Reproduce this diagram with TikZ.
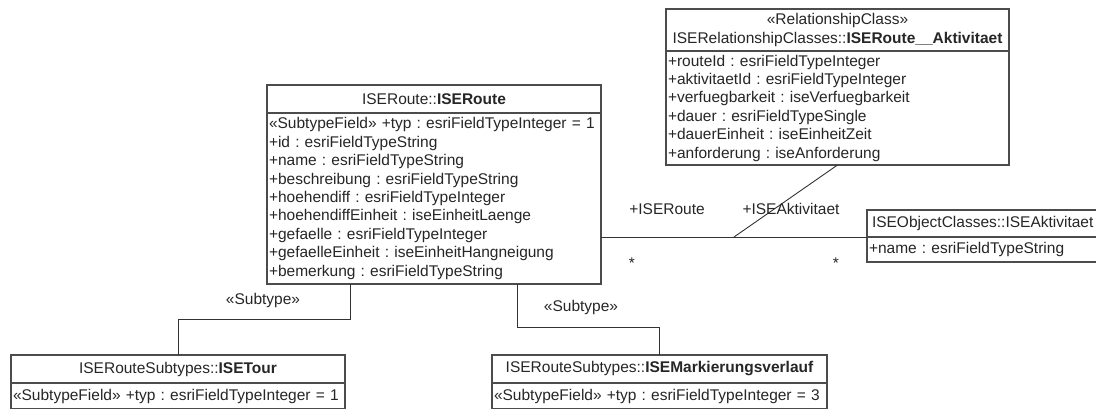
\documentclass[tikz,border=0pt]{standalone}
\usepackage{fontspec}
\setmainfont{Liberation Sans}
\usetikzlibrary{calc,positioning}
\frenchspacing
\newcommand{\umlfont}{\fontsize{15.5}{18.4}\selectfont}
\tikzset{
  classhead/.style={draw=black!70, line width=1.2pt, fill=white, outer sep=0pt, inner sep=0pt,
    minimum height=28pt, anchor=north west, font=\umlfont, text=black!85},
  classbody/.style={draw=black!70, line width=1.2pt, fill=white, outer sep=0pt, inner xsep=2pt,
    inner ysep=0pt, align=left, anchor=north, font=\umlfont, text=black!85},
  link/.style={draw=black!80, line width=0.9pt},
  rolelabel/.style={font=\umlfont, text=black!85, inner sep=0pt},
}

\begin{document}
\begin{tikzpicture}[x=1pt, y=-1pt]
			%%%%% START %%%%%
			\useasboundingbox (0,0) rectangle (1096,408);
			
			% route class
			\node[classhead, minimum width=334pt] (routeH) at (267,85) {ISERoute::\textbf{ISERoute}};
			\node[classbody, text width=330pt, minimum height=171pt, below=0pt of routeH] (routeB)
				{«SubtypeField» +typ : esriFieldTypeInteger = 1\\+id : esriFieldTypeString\\+name : esriFieldTypeString\\+beschreibung : esriFieldTypeString\\+hoehendiff : esriFieldTypeInteger\\+hoehendiffEinheit : iseEinheitLaenge\\+gefaelle : esriFieldTypeInteger\\+gefaelleEinheit : iseEinheitHangneigung\\+bemerkung : esriFieldTypeString};
			
			% relationship class
			\node[classhead, minimum width=343pt, minimum height=42pt, align=center] (relH) at (666,9)
				{«RelationshipClass»\\ISERelationshipClasses::\textbf{ISERoute\_\_Aktivitaet}};
			\node[classbody, text width=339pt, minimum height=114pt, below=0pt of relH] (relB)
				{+routeId : esriFieldTypeInteger\\+aktivitaetId : esriFieldTypeInteger\\+verfuegbarkeit : iseVerfuegbarkeit\\+dauer : esriFieldTypeSingle\\+dauerEinheit : iseEinheitZeit\\+anforderung : iseAnforderung};
			
			% object class
			\node[classhead, inner xsep=5pt, text width=235pt, align=left, minimum height=27pt] (aktH) at (867,210) {ISEObjectClasses::ISEAktivitaet};
			\node[classbody, text width=241pt, minimum height=25pt, below=0pt of aktH] (aktB) {+name : esriFieldTypeString};
			
			% subtypes
			\node[classhead, minimum width=334pt] (tourH) at (11,355) {ISERouteSubtypes::\textbf{ISETour}};
			\node[classbody, text width=330pt, minimum height=26pt, below=0pt of tourH] (tourB) {«SubtypeField» +typ : esriFieldTypeInteger = 1};
			
			\node[classhead, minimum width=335pt] (markH) at (492,355) {ISERouteSubtypes::\textbf{ISEMarkierungsverlauf}};
			\node[classbody, text width=331pt, minimum height=26pt, below=0pt of markH] (markB) {«SubtypeField» +typ : esriFieldTypeInteger = 3};
			
			% subtype links
			\coordinate (routeL) at ($(routeB.south)+(-84,0)$);
			\coordinate (routeR) at ($(routeB.south)+(83,0)$);
			\draw[link] (routeL) -- ++(0,35) -| (tourH.north);
			\draw[link] (routeR) -- ++(0,43) -| (markH.north);
			\node[rolelabel] (subL) at (263,300) {«Subtype»};
			\node[rolelabel] (subR) at (581,307) {«Subtype»};
			
			% association
			\coordinate (assocA) at (routeB.east |- aktB.north);
			\coordinate (assocB) at (aktB.north west);
			\coordinate (assocM) at ($(assocA)!0.5!(assocB)$);
			\draw[link] (assocA) -- (assocB);
			\draw[link] (relB.south) -- (assocM);
			
			\node[rolelabel] (roleRoute) at (667,209) {+ISERoute};
			\node[rolelabel] (roleAkt) at (791,209) {+ISEAktivitaet};
			\node[rolelabel] (multRoute) at (632,263) {*};
			\node[rolelabel] (multAkt) at (836,263) {*};
			
			%%%%% END %%%%%
\end{tikzpicture}
\end{document}
